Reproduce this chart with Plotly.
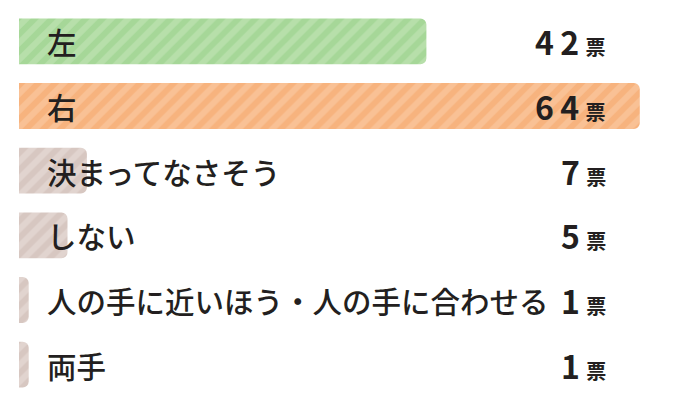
import plotly.graph_objects as go

categories = ["左", "右", "決まってなさそう", "しない", "人の手に近いほう・人の手に合わせる", "両手"]
votes = [42, 64, 7, 5, 1, 1]
unit = "票"
base_colors = ["#a6d798", "#f7b37e", "#d7c7c1", "#d7c7c1", "#d7c7c1", "#d7c7c1"]
stripe_colors = ["#c8e7bc", "#fbd0ab", "#ebe1dd", "#ebe1dd", "#ebe1dd", "#ebe1dd"]

FONT = "Noto Sans CJK JP"
TEXT = "#231f20"

fig = go.Figure()
for c, v, bc, sc in zip(categories, votes, base_colors, stripe_colors):
    fig.add_trace(go.Bar(
        x=[v], y=[c], orientation="h",
        width=0.71,
        marker=dict(
            color=bc,
            line=dict(width=0),
            pattern=dict(shape="/", fillmode="overlay", fgcolor=sc,
                         bgcolor=bc, size=12, solidity=0.5),
        ),
        hoverinfo="skip",
    ))

for c in categories:
    fig.add_annotation(x=0, xref="paper", xshift=26, xanchor="left",
                       y=c, yref="y", yanchor="middle", showarrow=False,
                       text=c,
                       font=dict(family=FONT, size=29.5, color=TEXT, weight=500))

for c, v in zip(categories, votes):
    digits = "\u2009".join(str(v))
    fig.add_annotation(x=(608 - 19) / 655, xref="paper", xanchor="right",
                       y=c, yref="y", yanchor="middle", showarrow=False,
                       text=f"<b>{digits}\u2009</b><span style='font-size:20px'><b>{unit}</b></span>",
                       font=dict(family=FONT, size=32, color=TEXT))

fig.update_layout(
    width=674, height=409,
    margin=dict(l=11, r=8, t=1, b=20),
    paper_bgcolor="white", plot_bgcolor="white",
    showlegend=False,
    barmode="overlay",
    barcornerradius=6,
    xaxis=dict(range=[0, 655 / 9.7], visible=False, fixedrange=True),
    yaxis=dict(categoryorder="array", categoryarray=categories,
               autorange="reversed", visible=False, fixedrange=True),
)
fig.write_html("out.html")
